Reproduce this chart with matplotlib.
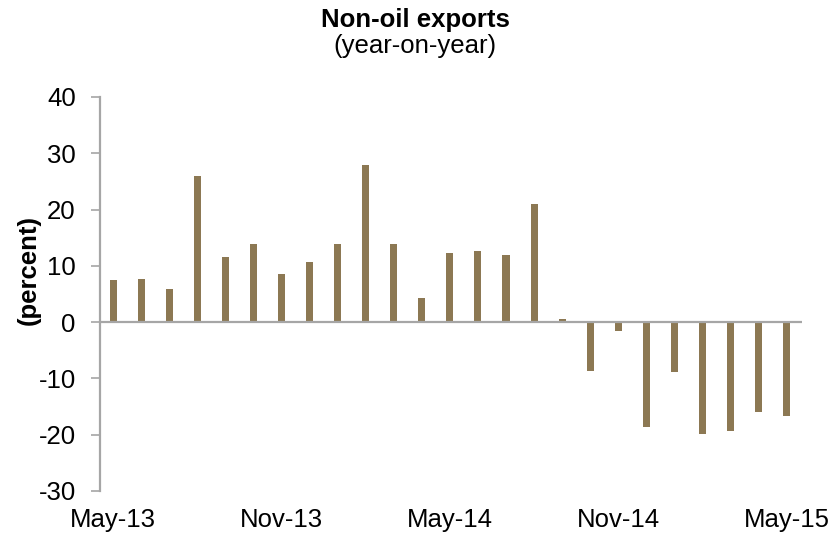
import matplotlib
matplotlib.use("Agg")
import matplotlib.pyplot as plt
import numpy as np

months = ["May-13", "Jun-13", "Jul-13", "Aug-13", "Sep-13", "Oct-13", "Nov-13",
          "Dec-13", "Jan-14", "Feb-14", "Mar-14", "Apr-14", "May-14", "Jun-14",
          "Jul-14", "Aug-14", "Sep-14", "Oct-14", "Nov-14", "Dec-14", "Jan-15",
          "Feb-15", "Mar-15", "Apr-15", "May-15"]
values = [7.5, 7.6, 5.8, 26.05, 11.6, 13.8, 8.5, 10.7, 13.8, 27.9,
          13.85, 4.3, 12.3, 12.7, 12.0, 21.0, 0.6, -8.6, -1.65, -18.6,
          -8.9, -19.8, -19.3, -15.9, -16.6]
tick_labels = ["May-13", "Nov-13", "May-14", "Nov-14", "May-15"]
y_ticks = [-30, -20, -10, 0, 10, 20, 30, 40]

plt.rcParams['font.family'] = ['Liberation Sans', 'DejaVu Sans']

fig = plt.figure(figsize=(8.4, 5.4), dpi=100)
ax = fig.add_axes([100/840, 1-491/540, 702/840, 394/540])

x = np.arange(len(values))
ax.bar(x, values, width=0.25, color='#8C7853', zorder=2)
ax.axhline(0, color='#A6A6A6', linewidth=1.6, zorder=3)

ax.set_xlim(-0.47, 24.55)
ax.set_ylim(-30, 40)
ax.set_yticks(y_ticks)
ax.set_yticklabels([str(v) for v in y_ticks])
tick_pos = [months.index(t) for t in tick_labels]
ax.set_xticks(tick_pos)
ax.set_xticklabels(tick_labels)

for s in ['top', 'right', 'bottom']:
    ax.spines[s].set_visible(False)
ax.spines['left'].set_color('#A6A6A6')
ax.spines['left'].set_linewidth(1.6)

ax.tick_params(axis='y', direction='out', length=6.5, width=1.2, color='#A6A6A6',
               labelsize=18.5, pad=11)
ax.tick_params(axis='x', length=0, labelsize=18.5, pad=12)

fig.text(0.494, 1-20/540, "Non-oil exports", ha='center', va='center',
         fontsize=18.5, fontweight='bold')
fig.text(0.494, 1-46/540, "(year-on-year)", ha='center', va='center',
         fontsize=18.5)
fig.text(29/840, 1-270/540, "(percent)", ha='center', va='center',
         rotation=90, fontsize=18.5, fontweight='bold')

fig.savefig("out.png", dpi=100)
